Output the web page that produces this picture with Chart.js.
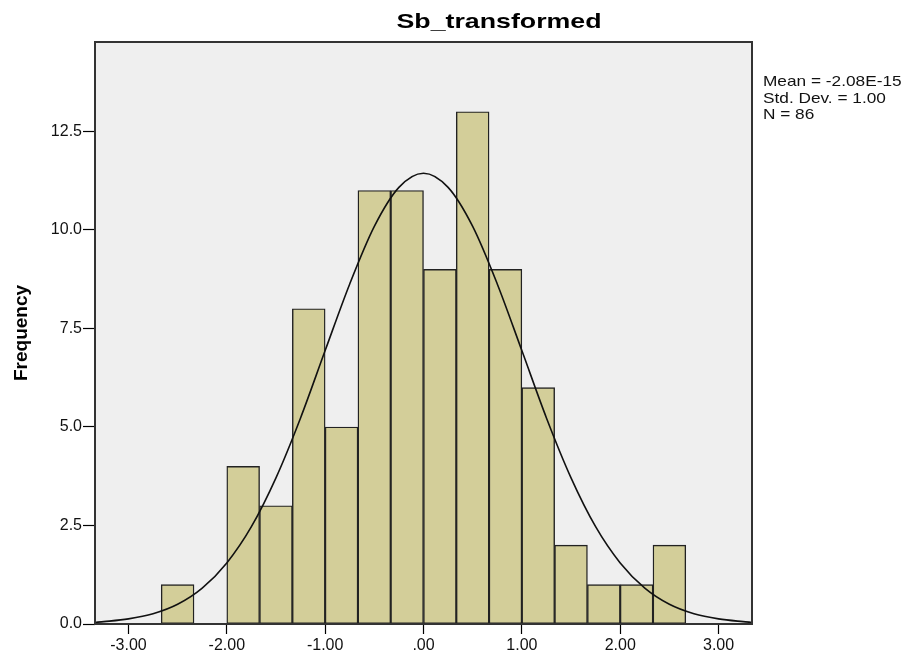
<!DOCTYPE html>
<html>
<head>
<meta charset="utf-8">
<script src="https://cdn.jsdelivr.net/npm/chart.js@4"></script>
<style>
  html, body { margin: 0; padding: 0; background: #fff; }
  #wrap { width: 903px; height: 655px; }
</style>
</head>
<body>
<div id="wrap"><canvas id="hist" width="903" height="655"></canvas></div>
<script>
'use strict';

// histogram bins (width 1/3), centres and counts
const binCenters = [-2.5, -2.1667, -1.8333, -1.5, -1.1667, -0.8333, -0.5, -0.1667,
    0.1667, 0.5, 0.8333, 1.1667, 1.5, 1.8333, 2.1667, 2.5];
const binCounts = [1, 0, 4, 3, 8, 5, 11, 11, 9, 13, 9, 6, 2, 1, 1, 2];

// normal curve overlay, sampled every 0.25
const curveX = [-3.34, -3.25, -3.0, -2.75, -2.5, -2.25, -2.0, -1.75, -1.5, -1.25, -1.0, -0.75, -0.5, -0.25,
    0, 0.25, 0.5, 0.75, 1.0, 1.25, 1.5, 1.75, 2.0, 2.25, 2.5, 2.75, 3.0, 3.25, 3.34];
const curveY = [0.04, 0.06, 0.13, 0.26, 0.50, 0.91, 1.55, 2.47, 3.71, 5.23, 6.94, 8.63, 10.09, 11.08,
    11.44, 11.08, 10.09, 8.63, 6.94, 5.23, 3.71, 2.47, 1.55, 0.91, 0.50, 0.26, 0.13, 0.06, 0.04];

const xTicks = [-3, -2, -1, 0, 1, 2, 3];
const yTicks = [0, 2.5, 5, 7.5, 10, 12.5];

const chartTitle = 'Sb_transformed';
const statsLines = ['Mean = -2.08E-15', 'Std. Dev. = 1.00', 'N = 86'];

const ctx = document.getElementById('hist').getContext('2d');

// draw text squeezed/stretched to a given width
function wideText(c, text, x, y, font, width, align) {
    c.save();
    c.font = font;
    const w = c.measureText(text).width;
    const sx = width / w;
    c.translate(x, y);
    c.scale(sx, 1);
    c.textAlign = align;
    c.textBaseline = 'alphabetic';
    c.fillText(text, 0, 0);
    c.restore();
}

const decorations = {
    id: 'decorations',
    beforeDraw(chart) {
        const c = chart.ctx;
        const a = chart.chartArea;
        c.save();
        c.fillStyle = '#fff';
        c.fillRect(0, 0, chart.width, chart.height);
        c.fillStyle = '#efefef';
        c.fillRect(a.left, a.top, a.right - a.left, a.bottom - a.top);
        c.restore();
    },
    afterDraw(chart) {
        const c = chart.ctx;
        const a = chart.chartArea;
        c.save();
        c.strokeStyle = '#333';
        c.lineWidth = 2;
        c.strokeRect(a.left, a.top, a.right - a.left, a.bottom - a.top);

        c.fillStyle = '#000';
        wideText(c, chartTitle, 499, 28, 'bold 21px "Liberation Sans", Arial, sans-serif', 205, 'center');

        c.fillStyle = '#111';
        statsLines.forEach((line, i) => {
            const f = '15px "Liberation Sans", Arial, sans-serif';
            c.font = f;
            const w = c.measureText(line).width * 1.15;
            wideText(c, line, 763, 86 + i * 16.7, f, w, 'left');
        });
        c.restore();
    },
};

const data = {
    datasets: [
        {
            type: 'line',
            data: curveX.map((x, i) => ({ x: x, y: curveY[i] })),
            borderColor: '#111',
            borderWidth: 1.6,
            pointRadius: 0,
            cubicInterpolationMode: 'monotone',
            fill: false,
            order: 0,
        },
        {
            type: 'bar',
            data: binCenters.map((x, i) => ({ x: x, y: binCounts[i] })),
            backgroundColor: 'rgb(211, 206, 153)',
            borderColor: '#222',
            borderWidth: 1.4,
            borderSkipped: false,
            barPercentage: 1,
            categoryPercentage: 1,
            order: 1,
        },
    ],
};

const tickFont = { family: '"Liberation Sans", Arial, sans-serif', size: 16 };

const myChart = new Chart(ctx, {
    data: data,
    plugins: [decorations],
    options: {
        responsive: false,
        animation: false,
        events: [],
        layout: { padding: { top: 42, right: 151, left: 0, bottom: 0 } },
        plugins: {
            legend: { display: false },
            tooltip: { enabled: false },
        },
        scales: {
            x: {
                type: 'linear',
                min: -3.34,
                max: 3.34,
                offset: false,
                afterBuildTicks: (scale) => {
                    scale.ticks = xTicks.map((v) => ({ value: v }));
                },
                afterFit: (scale) => {
                    scale.height = 31;
                },
                grid: {
                    offset: false,
                    drawOnChartArea: false,
                    tickLength: 10,
                    tickColor: '#000',
                    tickWidth: 1.2,
                },
                border: { display: false },
                ticks: {
                    padding: 2,
                    color: '#111',
                    font: tickFont,
                    maxRotation: 0,
                    autoSkip: false,
                    callback: (v) => (v === 0 ? '.00' : v.toFixed(2)),
                },
            },
            y: {
                min: 0,
                max: 14.77,
                afterBuildTicks: (scale) => {
                    scale.ticks = yTicks.map((v) => ({ value: v }));
                },
                afterFit: (scale) => {
                    scale.width = 95;
                },
                grid: {
                    drawOnChartArea: false,
                    tickLength: 12,
                    tickColor: '#000',
                    tickWidth: 1.2,
                },
                border: { display: false },
                ticks: {
                    padding: 1,
                    color: '#111',
                    font: tickFont,
                    autoSkip: false,
                    callback: (v) => v.toFixed(1),
                },
                title: {
                    display: true,
                    text: 'Frequency',
                    color: '#000',
                    padding: { top: 10, bottom: 0 },
                    font: { family: '"Liberation Sans", Arial, sans-serif', size: 19, weight: 'bold' },
                },
            },
        },
    },
});
</script>
</body>
</html>
